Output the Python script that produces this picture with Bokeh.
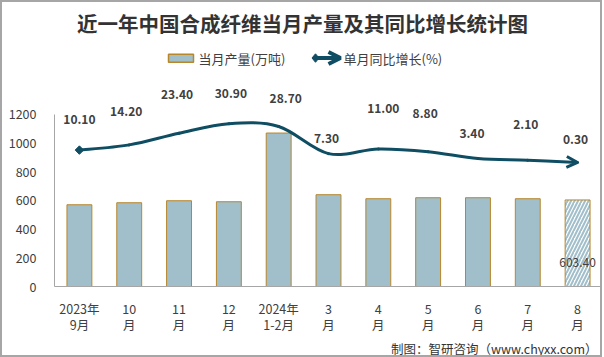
from bokeh.plotting import figure
from bokeh.models import (Range1d, FactorRange, FixedTicker, Arrow, OpenHead, Title,
                          Label, BoxAnnotation, PolyAnnotation, ColumnDataSource,
                          InlineStyleSheet)
from bokeh.core.properties import value
from bokeh.embed import file_html
from bokeh.resources import INLINE

# ---------------- data ----------------
categories = ["2023年\n9月", "10\n月", "11\n月", "12\n月", "2024年\n1-2月",
              "3\n月", "4\n月", "5\n月", "6\n月", "7\n月", "8\n月"]
production = [570, 584, 598, 591, 1070, 640, 612, 619, 619, 612, 603.4]   # 万吨
growth = [10.1, 14.2, 23.4, 30.9, 28.7, 7.3, 11.0, 8.8, 3.4, 2.1, 0.3]      # %
y_ticks = [0, 200, 400, 600, 800, 1000, 1200]

title_text = "近一年中国合成纤维当月产量及其同比增长统计图"
legend_bar_text = "当月产量(万吨)"
legend_line_text = "单月同比增长(%)"
credit_text = "制图：智研咨询（www.chyxx.com）"

# ---------------- layout / style ----------------
W, H = 602, 357
FL, FB = 54, 287                 # frame left / bottom in px
Y_END = 1200 * FB / 172.7        # primary range top so that 1200 sits at y~114
G_START, G_END = -97.7, 128.3    # secondary (growth) range
FONT_NAME = "Noto Sans CJK SC"
FONT = value(FONT_NAME)
TXT = "#404040"
BAR_FILL = "#a0bfcb"
BAR_LINE = "#b8862b"
LINE_COL = "#0f4d63"
AXIS_COL = "#a6a6a6"
label_dx = [0, -3, -2, 2, 7, -2, 5, -3, -6, -2, -2]
label_dy = [-31, -33, -39, -30, -28, -15, -40, -38, -25, -36, -23]

n = len(categories)
def px_x(px):
    return (px - FL) / (W - FL) * n
def px_y(py):
    return (FB - py) / FB * Y_END

p = figure(width=W, height=H, output_backend="svg", toolbar_location=None,
           x_range=FactorRange(*categories, range_padding=0),
           y_range=Range1d(0, Y_END),
           min_border_left=FL, min_border_right=0, min_border_top=0,
           min_border_bottom=H - FB)
p.extra_y_ranges = {"growth": Range1d(G_START, G_END)}
p.outline_line_color = None
p.grid.visible = False
p.background_fill_color = "white"
p.border_fill_color = "white"

# outer border of the picture (drawn as an overlay on the plot element)
p.stylesheets = [InlineStyleSheet(css=(
    ":host { position: relative; }"
    ":host::after { content: ''; position: absolute; left: 0; top: 0; right: 0; bottom: 0;"
    " border: 2px solid #a6a6a6; pointer-events: none; z-index: 1000; }"))]

# axes
yax = p.yaxis[0]
yax.ticker = FixedTicker(ticks=y_ticks)
yax.bounds = (0, 1200)
yax.axis_line_color = AXIS_COL
yax.major_tick_line_color = None
yax.minor_tick_line_color = None
yax.major_label_standoff = 12
yax.major_label_text_font = FONT_NAME
yax.major_label_text_font_size = "12.5px"
yax.major_label_text_color = TXT

xax = p.xaxis[0]
xax.axis_line_color = AXIS_COL
xax.major_tick_line_color = None
xax.minor_tick_line_color = None
xax.major_label_standoff = 6
xax.major_label_text_font = FONT_NAME
xax.major_label_text_font_size = "12.5px"
xax.major_label_text_line_height = 0.85
xax.major_label_text_color = TXT

# bars
bar_src = ColumnDataSource(dict(
    x=categories, top=production,
    fill=[BAR_FILL] * (n - 1) + ["white"],
    hatch=[" "] * (n - 1) + ["/"],
))
p.vbar(x="x", top="top", width=0.5, source=bar_src, fill_color="fill",
       line_color=BAR_LINE, line_width=1, hatch_pattern="hatch",
       hatch_color=BAR_FILL, hatch_weight=2, hatch_scale=7)

p.text(x=[categories[-1]], y=[0], text=[f"{production[-1]:.2f}"], y_offset=-24,
       text_align="center", text_baseline="middle", text_font=FONT,
       text_font_size="12px", text_color=TXT)

# smoothed growth line (Catmull-Rom -> cubic Bezier)
xs = [i + 0.5 for i in range(n)]
pts = list(zip(xs, growth))
x0, y0, x1, y1, cx0, cy0, cx1, cy1 = [], [], [], [], [], [], [], []
for i in range(n - 1):
    pm = pts[i - 1] if i > 0 else pts[i]
    pa, pb = pts[i], pts[i + 1]
    pn = pts[i + 2] if i + 2 < n else pts[i + 1]
    x0.append(pa[0]); y0.append(pa[1]); x1.append(pb[0]); y1.append(pb[1])
    cx0.append(pa[0] + (pb[0] - pm[0]) / 6); cy0.append(pa[1] + (pb[1] - pm[1]) / 6)
    cx1.append(pb[0] - (pn[0] - pa[0]) / 6); cy1.append(pb[1] - (pn[1] - pa[1]) / 6)
p.bezier(x0=x0, y0=y0, x1=x1, y1=y1, cx0=cx0, cy0=cy0, cx1=cx1, cy1=cy1,
         y_range_name="growth", line_color=LINE_COL, line_width=3, line_cap="round")
p.scatter(x=[xs[0]], y=[growth[0]], marker="square", angle=0.785, size=6,
          y_range_name="growth", fill_color=LINE_COL, line_color=LINE_COL)
p.add_layout(Arrow(x_start=cx1[-1], y_start=cy1[-1], x_end=xs[-1], y_end=growth[-1],
                   y_range_name="growth", line_alpha=0,
                   end=OpenHead(size=11, line_width=3, line_color=LINE_COL)))

p.text(x=xs, y=growth, text=[f"{g:.2f}" for g in growth], x_offset=label_dx,
       y_offset=label_dy, y_range_name="growth", text_align="center",
       text_baseline="middle", text_font=FONT, text_font_size="12px",
       text_font_style="bold", text_color=TXT)

# title
p.add_layout(Label(x=px_x(302), y=px_y(23), text=title_text, text_align="center",
                   text_baseline="middle", text_font=FONT_NAME, text_font_size="20.5px",
                   text_font_style="bold", text_color="#333333"))

# legend
p.add_layout(BoxAnnotation(left=px_x(168), right=px_x(193), top=px_y(54), bottom=px_y(62),
                           fill_color=BAR_FILL, fill_alpha=1, line_color=BAR_LINE,
                           line_width=1.5, line_alpha=1))
p.add_layout(Label(x=px_x(198), y=px_y(58), text=legend_bar_text, text_align="left",
                   text_baseline="middle", text_font=FONT_NAME, text_font_size="13px",
                   text_color=TXT))
p.add_layout(Arrow(x_start=px_x(313), y_start=px_y(57.7), x_end=px_x(340), y_end=px_y(57.7),
                   line_color=LINE_COL, line_width=4,
                   end=OpenHead(size=12, line_width=4, line_color=LINE_COL)))
p.add_layout(PolyAnnotation(xs=[px_x(311.5), px_x(315), px_x(318.5), px_x(315)],
                            ys=[px_y(57.7), px_y(53.5), px_y(57.7), px_y(62)],
                            fill_color=LINE_COL, fill_alpha=1, line_color=LINE_COL,
                            line_alpha=1))
p.add_layout(Label(x=px_x(343), y=px_y(58), text=legend_line_text, text_align="left",
                   text_baseline="middle", text_font=FONT_NAME, text_font_size="13px",
                   text_color=TXT))

# credit (below the axis)
p.add_layout(Title(text=credit_text, align="right", offset=5, standoff=0,
                   text_font=FONT_NAME, text_font_size="12.5px",
                   text_font_style="normal", text_color="#333333"), "below")

open("out.html", "w").write(file_html(p, INLINE))
